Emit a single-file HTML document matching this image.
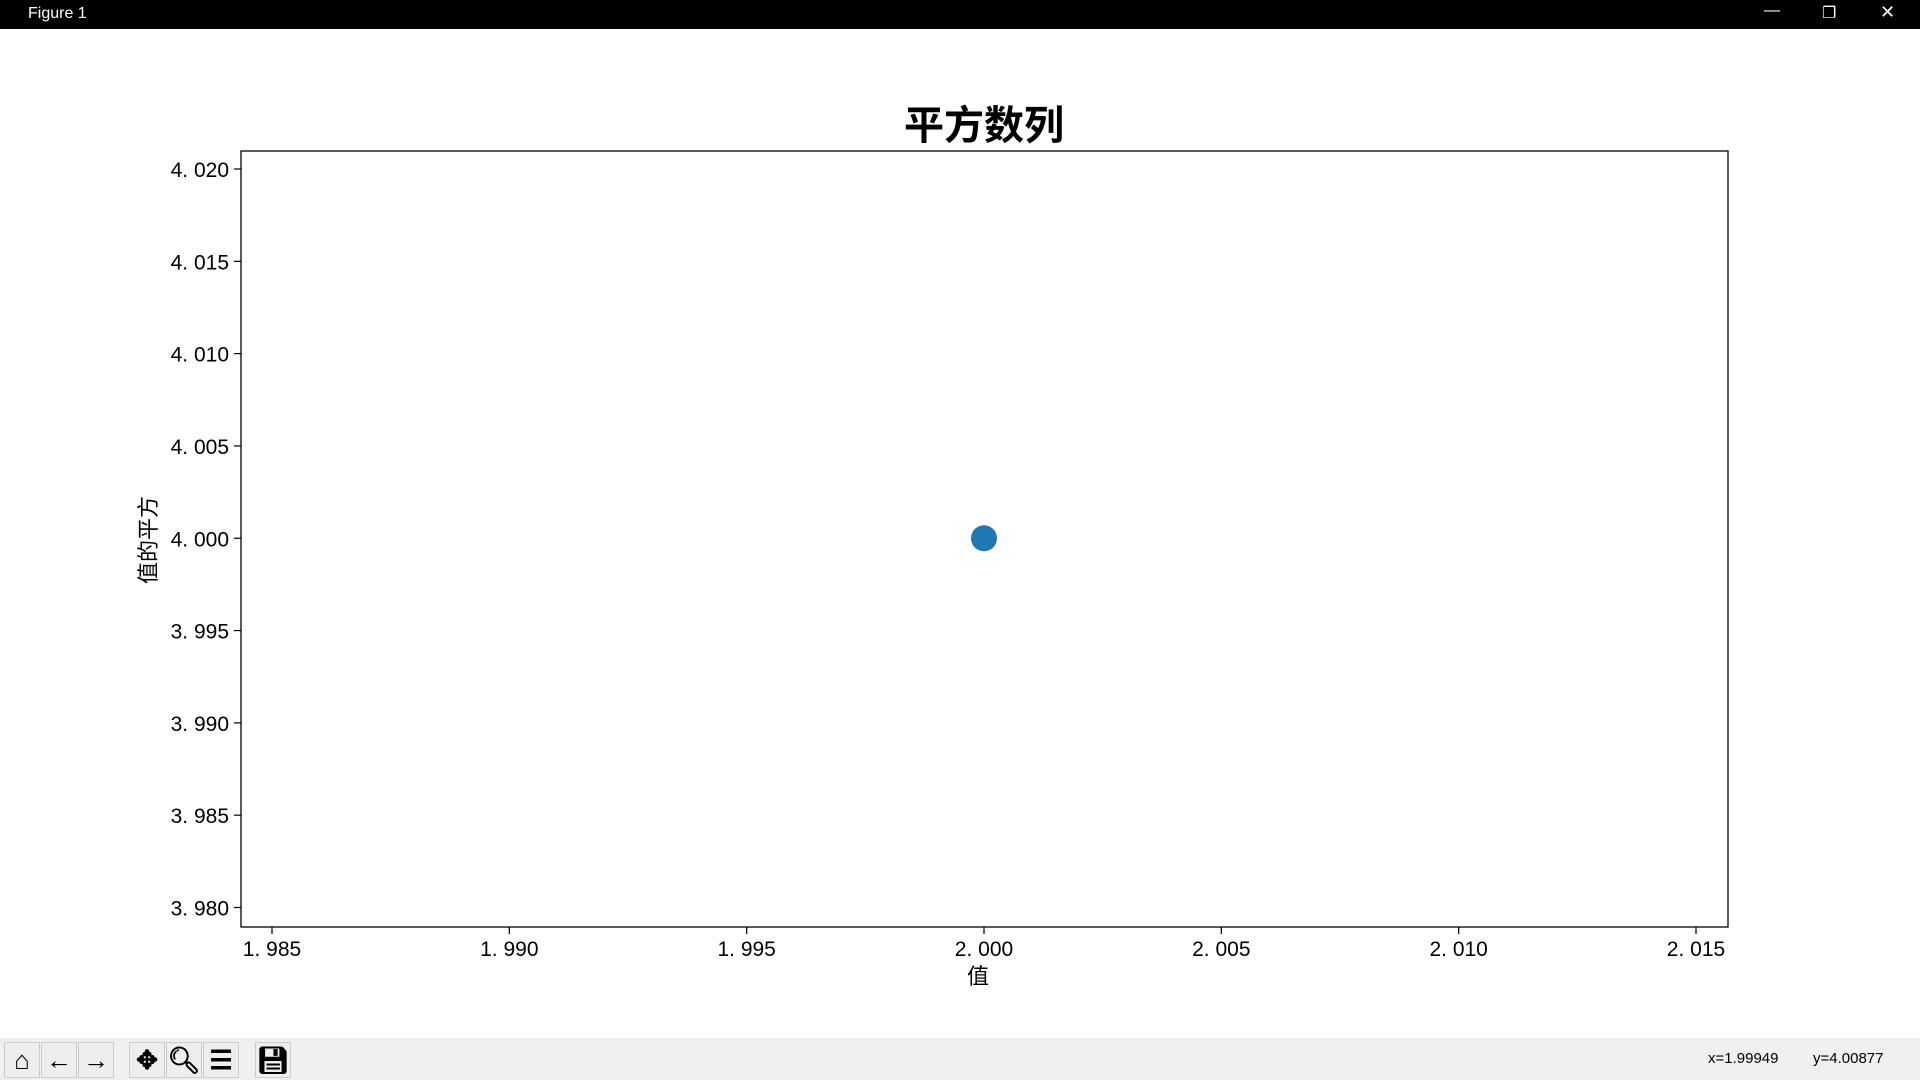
<!DOCTYPE html>
<html><head><meta charset="utf-8"><style>
body{margin:0;width:1920px;height:1080px;overflow:hidden;background:#fff;font-family:"Liberation Sans","Noto Sans CJK SC",sans-serif;position:relative}
.tb{position:absolute;left:0;top:0;width:1920px;height:29px;background:#000;color:#fff;font-size:16px}
.bar{position:absolute;left:0;top:1038px;width:1920px;height:42px;background:#f0f0f0}
.btn{position:absolute;top:1042px;width:34px;height:34px;border:1px solid #ccc;background:#eee;font-size:26px;text-align:center;line-height:34px;font-weight:bold}
</style></head><body>
<div class="tb"><span style="position:absolute;left:28px;top:5px">Figure 1</span>
<span style="position:absolute;left:1764px;top:2px">—</span>
<span style="position:absolute;left:1822px;top:3px">❐</span>
<span style="position:absolute;left:1880px;top:2px;font-size:18px">✕</span></div>
<svg id="chart" width="1920" height="1080" style="position:absolute;left:0;top:0"></svg>
<div class="bar"></div>
<div class="btn" style="left:4px">⌂</div>
<div class="btn" style="left:41px">←</div>
<div class="btn" style="left:78px">→</div>
<div class="btn" style="left:129px">✥</div>
<div class="btn" style="left:166px">🔍︎</div>
<div class="btn" style="left:203px">☰</div>
<div class="btn" style="left:255px">💾︎</div>
<div style="position:absolute;left:1708px;top:1050px;font-size:15px">x=1.99949</div>
<div style="position:absolute;left:1813px;top:1050px;font-size:15px">y=4.00877</div>
<script>
const xs=[2];
const ys=[4];
const xTicks=[1.985,1.990,1.995,2.000,2.005,2.010,2.015];
const yTicks=[3.980,3.985,3.990,3.995,4.000,4.005,4.010,4.015,4.020];
const L=241,T=151,R=1728,B=927;
const X=v=>272+(v-1.985)/0.03*(1696-272);
const Y=v=>907.5-(v-3.98)/0.04*(907.5-169);
const s=document.getElementById('chart');const NS='http://www.w3.org/2000/svg';
function mk(t,a,txt){const e=document.createElementNS(NS,t);for(const k in a)e.setAttribute(k,a[k]);if(txt!=null)e.textContent=txt;s.appendChild(e);return e;}
const fr=mk('rect',{x:L,y:T,width:R-L,height:B-T,fill:'none',stroke:'#000','stroke-width':1.3});

const F='Liberation Sans, Noto Sans CJK SC, sans-serif';
xTicks.forEach(v=>{const x=X(v);
const l=mk('line',{x1:x,x2:x,y1:B,y2:B+7,stroke:'#000','stroke-width':1.2});

const t=mk('text',{x:x,y:B+29,'text-anchor':'middle','font-size':21,'font-family':F},v.toFixed(3).replace('.','. '));
});
yTicks.forEach(v=>{const y=Y(v);
const l=mk('line',{x1:L-7,x2:L,y1:y,y2:y,stroke:'#000','stroke-width':1.2});

const t=mk('text',{x:L-12,y:y+8,'text-anchor':'end','font-size':21,'font-family':F},v.toFixed(3).replace('.','. '));
});
xs.forEach((v,i)=>{const c=mk('circle',{cx:X(v),cy:Y(ys[i]),r:13,fill:'#1f77b4'});
});
const ti=mk('text',{x:984,y:139,'text-anchor':'middle','font-size':40,'font-weight':'bold','font-family':F},'平方数列');

const xl=mk('text',{x:978,y:984,'text-anchor':'middle','font-size':22,'font-family':F},'值');

const yl=mk('text',{x:0,y:0,'text-anchor':'middle','font-size':22,'font-family':F,transform:'translate(156,540) rotate(-90)'},'值的平方');

</script>
</body></html>
